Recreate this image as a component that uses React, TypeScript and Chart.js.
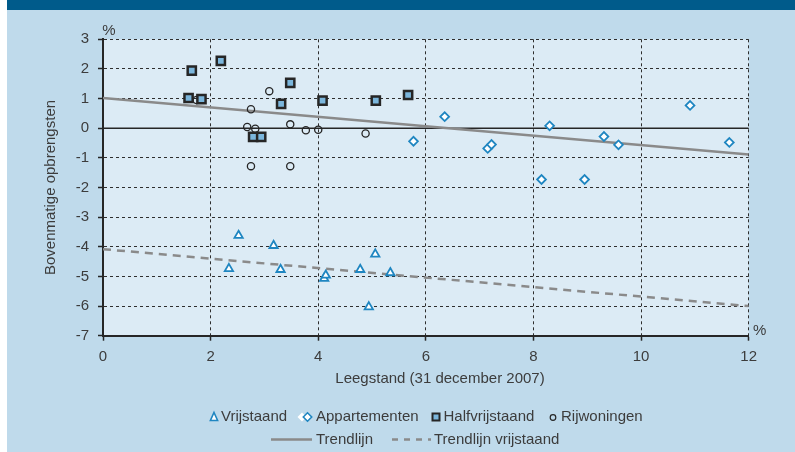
import React, { useEffect, useRef } from 'react';
import { Chart, registerables } from 'chart.js';

Chart.register(...registerables);

// ---- data ----
const vrijstaandX = [2.52, 2.34, 3.17, 3.30, 4.11, 4.14, 4.78, 5.06, 4.94, 5.34];
const vrijstaandY = [-3.62, -4.74, -3.96, -4.77, -5.07, -4.96, -4.77, -4.25, -6.03, -4.88];

const appartementenX = [5.77, 6.35, 7.15, 7.22, 8.30, 8.15, 8.95, 9.31, 9.58, 10.91, 11.64];
const appartementenY = [-0.44, 0.39, -0.68, -0.55, 0.08, -1.73, -1.73, -0.28, -0.56, 0.77, -0.48];

const halfvrijstaandX = [1.65, 1.59, 1.83, 2.19, 3.48, 3.31, 4.08, 5.07, 5.67, 2.79, 2.94];
const halfvrijstaandY = [1.94, 1.02, 0.98, 2.27, 1.53, 0.82, 0.93, 0.93, 1.12, -0.29, -0.29];

const rijwoningenX = [1.74, 2.75, 3.09, 2.68, 2.83, 3.48, 3.77, 4.00, 4.88, 2.75, 3.48];
const rijwoningenY = [0.95, 0.64, 1.25, 0.04, -0.02, 0.13, -0.07, -0.05, -0.18, -1.28, -1.28];

const trendX = [0, 12];
const trendY = [1.02, -0.89];
const trendVrijstaandY = [-4.08, -6.0];
const zeroY = [0, 0];

const xTicks = [0, 2, 4, 6, 8, 10, 12];
const yTicks = [-7, -6, -5, -4, -3, -2, -1, 0, 1, 2, 3];

const seriesNames = ['Vrijstaand', 'Appartementen', 'Halfvrijstaand', 'Rijwoningen'];
const lineNames = ['Trendlijn', 'Trendlijn vrijstaand'];
const xTitle = 'Leegstand (31 december 2007)';
const yTitle = 'Bovenmatige opbrengsten';
const unit = '%';

// ---- styles ----
const FONT = '"Liberation Sans", Arial, sans-serif';
const BLUE = '#1f86c1';
const DARK = '#262626';
const GRID = '#2e2e2e';
const TREND = '#8a8a8a';
const SQUARE_FILL = '#7bb6dc';
const TEXT = '#3c3c3c';

const pts = (xs: number[], ys: number[]) => xs.map((x, i) => ({ x, y: ys[i] }));

const decor = {
  id: 'decor',
  beforeDraw(chart: any) {
    const { ctx, chartArea: a, width, height } = chart;
    ctx.save();
    ctx.fillStyle = '#bfdaeb';
    ctx.fillRect(0, 0, width, height);
    ctx.fillStyle = '#ffffff';
    ctx.fillRect(0, 0, 7, height);
    ctx.fillStyle = '#005b8b';
    ctx.fillRect(7, 0, width - 7, 10);
    ctx.fillStyle = '#dcebf5';
    ctx.fillRect(a.left, a.top, a.right - a.left, a.bottom - a.top);
    ctx.restore();
  },
  afterDraw(chart: any) {
    const { ctx, chartArea: a } = chart;
    ctx.save();
    ctx.font = `15px ${FONT}`;
    ctx.fillStyle = TEXT;
    ctx.textBaseline = 'middle';
    // unit labels
    ctx.textAlign = 'center';
    ctx.fillText(unit, a.left + 6, a.top - 8);
    ctx.fillText(unit, a.right + 11, a.bottom - 5);
    // x title
    ctx.fillText(xTitle, 440, 379);

    // legend row 1
    ctx.textAlign = 'left';
    const r1 = 417;
    // triangle
    ctx.beginPath();
    ctx.moveTo(214, r1 - 4.5);
    ctx.lineTo(217.6, r1 + 3.5);
    ctx.lineTo(210.4, r1 + 3.5);
    ctx.closePath();
    ctx.fillStyle = '#ffffff';
    ctx.fill();
    ctx.strokeStyle = BLUE;
    ctx.lineWidth = 1.6;
    ctx.stroke();
    ctx.fillStyle = TEXT;
    ctx.fillText(seriesNames[0], 221, r1);
    // diamonds
    const diamond = (cx: number, cy: number, r: number) => {
      ctx.beginPath();
      ctx.moveTo(cx - r, cy);
      ctx.lineTo(cx, cy - r);
      ctx.lineTo(cx + r, cy);
      ctx.lineTo(cx, cy + r);
      ctx.closePath();
    };
    diamond(302, r1, 4.5);
    ctx.fillStyle = '#ffffff';
    ctx.fill();
    diamond(307.5, r1, 4.2);
    ctx.fill();
    ctx.strokeStyle = BLUE;
    ctx.lineWidth = 1.6;
    ctx.stroke();
    ctx.fillStyle = TEXT;
    ctx.fillText(seriesNames[1], 316, r1);
    // square
    ctx.fillStyle = SQUARE_FILL;
    ctx.fillRect(432.5, r1 - 3.5, 7, 7);
    ctx.strokeStyle = DARK;
    ctx.lineWidth = 2;
    ctx.strokeRect(432.5, r1 - 3.5, 7, 7);
    ctx.fillStyle = TEXT;
    ctx.fillText(seriesNames[2], 443.5, r1);
    // circle
    ctx.beginPath();
    ctx.arc(553, r1 + 0.5, 2.8, 0, Math.PI * 2);
    ctx.strokeStyle = DARK;
    ctx.lineWidth = 1.2;
    ctx.stroke();
    ctx.fillStyle = TEXT;
    ctx.fillText(seriesNames[3], 561, r1);

    // legend row 2
    const r2 = 439.5;
    ctx.strokeStyle = TREND;
    ctx.lineWidth = 2.5;
    ctx.beginPath();
    ctx.moveTo(271, r2);
    ctx.lineTo(312, r2);
    ctx.stroke();
    ctx.fillText(lineNames[0], 316, r2);
    ctx.setLineDash([6, 6]);
    ctx.beginPath();
    ctx.moveTo(392, r2);
    ctx.lineTo(431, r2);
    ctx.stroke();
    ctx.setLineDash([]);
    ctx.fillText(lineNames[1], 434, r2);
    ctx.restore();
  },
};

export default function App() {
  const ref = useRef<HTMLCanvasElement | null>(null);

  useEffect(() => {
    document.body.style.margin = '0';
    if (!ref.current) return;
    const chart = new Chart(ref.current, {
      type: 'scatter',
      data: {
        datasets: [
          {
            label: seriesNames[2],
            data: pts(halfvrijstaandX, halfvrijstaandY),
            pointStyle: 'rect',
            pointRadius: 5.8,
            pointBackgroundColor: SQUARE_FILL,
            pointBorderColor: DARK,
            pointBorderWidth: 2.5,
            order: 1,
          },
          {
            label: seriesNames[3],
            data: pts(rijwoningenX, rijwoningenY),
            pointStyle: 'circle',
            pointRadius: 3.6,
            pointBackgroundColor: 'rgba(0,0,0,0)',
            pointBorderColor: DARK,
            pointBorderWidth: 1.3,
            order: 2,
          },
          {
            label: seriesNames[1],
            data: pts(appartementenX, appartementenY),
            pointStyle: 'rectRot',
            pointRadius: 4.4,
            pointBackgroundColor: '#ffffff',
            pointBorderColor: BLUE,
            pointBorderWidth: 1.8,
            order: 3,
          },
          {
            label: seriesNames[0],
            data: pts(vrijstaandX, vrijstaandY),
            pointStyle: 'triangle',
            pointRadius: 4.8,
            pointBackgroundColor: '#ffffff',
            pointBorderColor: BLUE,
            pointBorderWidth: 1.8,
            order: 4,
          },
          {
            label: lineNames[0],
            data: pts(trendX, trendY),
            showLine: true,
            pointRadius: 0,
            borderColor: TREND,
            borderWidth: 2.5,
            order: 5,
          },
          {
            label: lineNames[1],
            data: pts(trendX, trendVrijstaandY),
            showLine: true,
            pointRadius: 0,
            borderColor: TREND,
            borderWidth: 2.5,
            borderDash: [8, 6],
            order: 6,
          },
          {
            label: 'nul',
            data: pts(trendX, zeroY),
            showLine: true,
            pointRadius: 0,
            borderColor: DARK,
            borderWidth: 1.5,
            order: 7,
          },
        ],
      },
      options: {
        responsive: false,
        animation: false,
        events: [],
        layout: { padding: { left: 0, top: 39.3, right: 46.3, bottom: 56.3 } },
        plugins: {
          legend: { display: false },
          tooltip: { enabled: false },
        },
        scales: {
          x: {
            type: 'linear',
            min: xTicks[0],
            max: xTicks[xTicks.length - 1],
            afterBuildTicks: (s: any) => {
              s.ticks = xTicks.map((v) => ({ value: v }));
            },
            afterFit: (s: any) => {
              s.height = 60;
            },
            grid: {
              color: GRID,
              lineWidth: 1,
              drawTicks: true,
              tickLength: 5,
              tickColor: DARK,
              tickWidth: 1.5,
            },
            border: { display: true, color: DARK, width: 2, dash: [3, 3] },
            ticks: {
              color: TEXT,
              padding: 7,
              font: { family: FONT, size: 15 },
              maxRotation: 0,
            },
            title: { display: false },
          },
          y: {
            type: 'linear',
            min: yTicks[0],
            max: yTicks[yTicks.length - 1],
            afterBuildTicks: (s: any) => {
              s.ticks = yTicks.map((v) => ({ value: v }));
            },
            afterFit: (s: any) => {
              s.width = 103;
            },
            grid: {
              color: GRID,
              lineWidth: 1,
              drawTicks: true,
              tickLength: 5,
              tickColor: DARK,
              tickWidth: 1.5,
            },
            border: { display: true, color: DARK, width: 2, dash: [3, 3] },
            ticks: {
              color: TEXT,
              padding: 9,
              font: { family: FONT, size: 15 },
            },
            title: {
              display: true,
              text: yTitle,
              color: TEXT,
              font: { family: FONT, size: 15 },
              padding: { top: 41.5, bottom: 0 },
            },
          },
        },
      },
      plugins: [decor],
    });
    return () => chart.destroy();
  }, []);

  return (
    <div style={{ width: 795, height: 452 }}>
      <canvas ref={ref} width={795} height={452} style={{ display: 'block' }} />
    </div>
  );
}
